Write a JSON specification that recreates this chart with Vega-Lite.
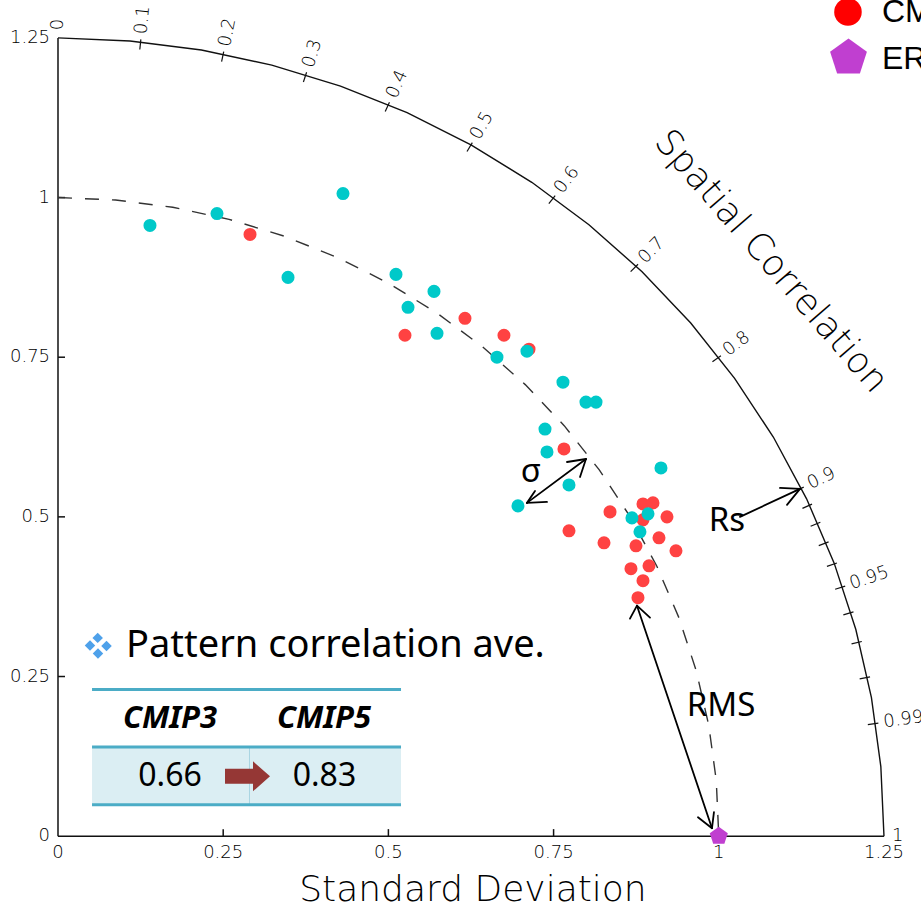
{
  "$schema": "https://vega.github.io/schema/vega-lite/v6.json",
  "width": 921,
  "height": 908,
  "autosize": {"type": "fit", "contains": "padding"},
  "padding": 0,
  "background": "white",
  "config": {"view": {"stroke": null}},
  "encoding": {
    "x": {"field": "x", "type": "quantitative", "scale": {"domain": [-0.08777, 1.30602], "nice": false, "zero": false}, "axis": null},
    "y": {"field": "y", "type": "quantitative", "scale": {"domain": [-0.10937, 1.30938], "nice": false, "zero": false}, "axis": null}
  },
  "layer": [
    {
      "data": {"values": [{"x": 0.0515, "x2": 0.5191, "y": 0.1398, "y2": 0.0492}]},
      "mark": {"type": "rect", "fill": "#dbeef3"},
      "encoding": {"x2": {"field": "x2"}, "y2": {"field": "y2"}}
    },
    {
      "data": {"values": [{"x": 0.2898, "x2": 0.2898, "y": 0.1398, "y2": 0.0492}]},
      "mark": {"type": "rule", "stroke": "#a9d5e2", "strokeWidth": 1},
      "encoding": {"x2": {"field": "x2"}, "y2": {"field": "y2"}}
    },
    {
      "data": {"values": [
        {"x": 0.0515, "x2": 0.5191, "y": 0.2297, "y2": 0.2297},
        {"x": 0.0515, "x2": 0.5191, "y": 0.1398, "y2": 0.1398},
        {"x": 0.0515, "x2": 0.5191, "y": 0.0492, "y2": 0.0492}
      ]},
      "mark": {"type": "rule", "stroke": "#4bacc6", "strokeWidth": 3},
      "encoding": {"x2": {"field": "x2"}, "y2": {"field": "y2"}}
    },
    {
      "data": {"values": [
        {"x": 0, "y": 0, "x2": 0, "y2": 1.25},
        {"x": 0, "y": 0, "x2": 1.25, "y2": 0},
        {"x": 0, "y": 0.25, "x2": 0.0106, "y2": 0.25},
        {"x": 0, "y": 0.5, "x2": 0.0106, "y2": 0.5},
        {"x": 0, "y": 0.75, "x2": 0.0106, "y2": 0.75},
        {"x": 0, "y": 1.0, "x2": 0.0106, "y2": 1.0},
        {"x": 0.25, "y": 0, "x2": 0.25, "y2": 0.011},
        {"x": 0.5, "y": 0, "x2": 0.5, "y2": 0.011},
        {"x": 0.75, "y": 0, "x2": 0.75, "y2": 0.011},
        {"x": 1.0, "y": 0, "x2": 1.0, "y2": 0.011}
      ]},
      "mark": {"type": "rule", "stroke": "#111", "strokeWidth": 1.5},
      "encoding": {"x2": {"field": "x2"}, "y2": {"field": "y2"}}
    },
    {
      "data": {"values": [
        {"o": 0, "x": 0, "y": 1.25}, {"o": 1, "x": 0.10895, "y": 1.24524}, {"o": 2, "x": 0.21706, "y": 1.23101},
        {"o": 3, "x": 0.32353, "y": 1.20741}, {"o": 4, "x": 0.42753, "y": 1.17461}, {"o": 5, "x": 0.52828, "y": 1.13289},
        {"o": 6, "x": 0.625, "y": 1.08253}, {"o": 7, "x": 0.71698, "y": 1.02394}, {"o": 8, "x": 0.80349, "y": 0.95755},
        {"o": 9, "x": 0.88388, "y": 0.88388}, {"o": 10, "x": 0.95755, "y": 0.80349}, {"o": 11, "x": 1.02394, "y": 0.71698},
        {"o": 12, "x": 1.08253, "y": 0.625}, {"o": 13, "x": 1.13289, "y": 0.52828}, {"o": 14, "x": 1.17461, "y": 0.42753},
        {"o": 15, "x": 1.20741, "y": 0.32353}, {"o": 16, "x": 1.23101, "y": 0.21706}, {"o": 17, "x": 1.24524, "y": 0.10895},
        {"o": 18, "x": 1.25, "y": 0}
      ]},
      "mark": {"type": "line", "stroke": "#111", "strokeWidth": 1.4},
      "encoding": {"order": {"field": "o", "type": "quantitative"}}
    },
    {
      "data": {"values": [
        {"o": 0, "x": 0, "y": 1}, {"o": 1, "x": 0.08716, "y": 0.99619}, {"o": 2, "x": 0.17365, "y": 0.98481},
        {"o": 3, "x": 0.25882, "y": 0.96593}, {"o": 4, "x": 0.34202, "y": 0.93969}, {"o": 5, "x": 0.42262, "y": 0.90631},
        {"o": 6, "x": 0.5, "y": 0.86603}, {"o": 7, "x": 0.57358, "y": 0.81915}, {"o": 8, "x": 0.64279, "y": 0.76604},
        {"o": 9, "x": 0.70711, "y": 0.70711}, {"o": 10, "x": 0.76604, "y": 0.64279}, {"o": 11, "x": 0.81915, "y": 0.57358},
        {"o": 12, "x": 0.86603, "y": 0.5}, {"o": 13, "x": 0.90631, "y": 0.42262}, {"o": 14, "x": 0.93969, "y": 0.34202},
        {"o": 15, "x": 0.96593, "y": 0.25882}, {"o": 16, "x": 0.98481, "y": 0.17365}, {"o": 17, "x": 0.99619, "y": 0.08716},
        {"o": 18, "x": 1, "y": 0}
      ]},
      "mark": {"type": "line", "stroke": "#333", "strokeWidth": 1.4, "strokeDash": [14, 13]},
      "encoding": {"order": {"field": "o", "type": "quantitative"}}
    },
    {
      "data": {"values": [
        {"x": 0.1238, "y": 1.2318, "x2": 0.1254, "y2": 1.2477},
        {"x": 0.2476, "y": 1.2130, "x2": 0.2508, "y2": 1.2287},
        {"x": 0.3714, "y": 1.1810, "x2": 0.3762, "y2": 1.1962},
        {"x": 0.4952, "y": 1.1346, "x2": 0.5016, "y2": 1.1493},
        {"x": 0.619, "y": 1.0721, "x2": 0.627, "y2": 1.0860},
        {"x": 0.7428, "y": 0.9904, "x2": 0.7524, "y2": 1.0032},
        {"x": 0.8666, "y": 0.8841, "x2": 0.8778, "y2": 0.8955},
        {"x": 0.9904, "y": 0.7428, "x2": 1.0032, "y2": 0.7524},
        {"x": 1.1142, "y": 0.5396, "x2": 1.1286, "y2": 0.5466},
        {"x": 1.1266, "y": 0.5133, "x2": 1.1411, "y2": 0.5199},
        {"x": 1.1390, "y": 0.4852, "x2": 1.1537, "y2": 0.4915},
        {"x": 1.1513, "y": 0.4550, "x2": 1.1662, "y2": 0.4609},
        {"x": 1.1637, "y": 0.4224, "x2": 1.1788, "y2": 0.4278},
        {"x": 1.1761, "y": 0.3866, "x2": 1.1913, "y2": 0.3916},
        {"x": 1.1885, "y": 0.3466, "x2": 1.2038, "y2": 0.3511},
        {"x": 1.2009, "y": 0.3010, "x2": 1.2164, "y2": 0.3048},
        {"x": 1.2132, "y": 0.2464, "x2": 1.2289, "y2": 0.2495},
        {"x": 1.2256, "y": 0.1746, "x2": 1.2415, "y2": 0.1769}
      ]},
      "mark": {"type": "rule", "stroke": "#111", "strokeWidth": 1.2},
      "encoding": {"x2": {"field": "x2"}, "y2": {"field": "y2"}}
    },
    {
      "data": {"values": [
        {"r": 0, "t": "0", "x": 0, "y": 1.262},
        {"r": 0.1, "t": "0.1", "x": 0.1262, "y": 1.2557},
        {"r": 0.2, "t": "0.2", "x": 0.2524, "y": 1.2365},
        {"r": 0.3, "t": "0.3", "x": 0.3786, "y": 1.2039},
        {"r": 0.4, "t": "0.4", "x": 0.5048, "y": 1.1566},
        {"r": 0.5, "t": "0.5", "x": 0.631, "y": 1.0929},
        {"r": 0.6, "t": "0.6", "x": 0.7572, "y": 1.0096},
        {"r": 0.7, "t": "0.7", "x": 0.8834, "y": 0.9012},
        {"r": 0.8, "t": "0.8", "x": 1.0096, "y": 0.7572},
        {"r": 0.9, "t": "0.9", "x": 1.1358, "y": 0.5501},
        {"r": 0.95, "t": "0.95", "x": 1.1989, "y": 0.3941},
        {"r": 0.99, "t": "0.99", "x": 1.2494, "y": 0.1780},
        {"r": 1, "t": "1", "x": 1.262, "y": 0}
      ]},
      "mark": {"type": "text", "align": "left", "baseline": "middle", "font": "DejaVu Sans", "fontWeight": 200, "fontSize": 18, "fill": "#000", "clip": true},
      "encoding": {
        "text": {"field": "t"},
        "angle": {"field": "r", "type": "quantitative", "legend": null,
          "scale": {"domain": [0, 0.1, 0.2, 0.3, 0.4, 0.5, 0.6, 0.7, 0.8, 0.9, 0.95, 0.99, 1],
                    "range": [-90, -84.26, -78.46, -72.54, -66.42, -60, -53.13, -45.57, -36.87, -25.84, -18.19, -8.11, 0],
                    "zero": false, "nice": false}}
      }
    },
    {
      "data": {"values": [
        {"t": "0", "x": -0.012, "y": 0},
        {"t": "0.25", "x": -0.012, "y": 0.25},
        {"t": "0.5", "x": -0.012, "y": 0.5},
        {"t": "0.75", "x": -0.012, "y": 0.75},
        {"t": "1", "x": -0.012, "y": 1.0},
        {"t": "1.25", "x": -0.012, "y": 1.25}
      ]},
      "mark": {"type": "text", "align": "right", "baseline": "middle", "font": "DejaVu Sans", "fontWeight": 200, "fontSize": 18, "fill": "#000"},
      "encoding": {"text": {"field": "t"}}
    },
    {
      "data": {"values": [
        {"t": "0", "x": 0, "y": -0.012},
        {"t": "0.25", "x": 0.25, "y": -0.012},
        {"t": "0.5", "x": 0.5, "y": -0.012},
        {"t": "0.75", "x": 0.75, "y": -0.012},
        {"t": "1", "x": 1.0, "y": -0.012},
        {"t": "1.25", "x": 1.25, "y": -0.012}
      ]},
      "mark": {"type": "text", "align": "center", "baseline": "top", "font": "DejaVu Sans", "fontWeight": 200, "fontSize": 18, "fill": "#000"},
      "encoding": {"text": {"field": "t"}}
    },
    {
      "data": {"values": [{"t": "Standard Deviation", "x": 0.628, "y": -0.0836}]},
      "mark": {"type": "text", "align": "center", "baseline": "middle", "font": "DejaVu Sans", "fontWeight": 200, "fontSize": 36, "fill": "#000"},
      "encoding": {"text": {"field": "t"}}
    },
    {
      "data": {"values": [{"t": "Spatial Correlation", "x": 1.079, "y": 0.9}]},
      "mark": {"type": "text", "align": "center", "baseline": "middle", "font": "DejaVu Sans", "fontWeight": 200, "fontSize": 36, "fill": "#000", "angle": 49},
      "encoding": {"text": {"field": "t"}}
    },
    {
      "data": {"values": [
        {"g": "CMIP3", "x": 0.2906, "y": 0.9422},
        {"g": "CMIP3", "x": 0.5251, "y": 0.7844},
        {"g": "CMIP3", "x": 0.6159, "y": 0.8109},
        {"g": "CMIP3", "x": 0.6749, "y": 0.7844},
        {"g": "CMIP3", "x": 0.7128, "y": 0.7625},
        {"g": "CMIP3", "x": 0.7657, "y": 0.6063},
        {"g": "CMIP3", "x": 0.7733, "y": 0.4781},
        {"g": "CMIP3", "x": 0.8263, "y": 0.4594},
        {"g": "CMIP3", "x": 0.8354, "y": 0.5078},
        {"g": "CMIP3", "x": 0.8853, "y": 0.5203},
        {"g": "CMIP3", "x": 0.9004, "y": 0.5219},
        {"g": "CMIP3", "x": 0.8853, "y": 0.4953},
        {"g": "CMIP3", "x": 0.9216, "y": 0.5},
        {"g": "CMIP3", "x": 0.9095, "y": 0.4672},
        {"g": "CMIP3", "x": 0.8747, "y": 0.4547},
        {"g": "CMIP3", "x": 0.9352, "y": 0.4469},
        {"g": "CMIP3", "x": 0.8671, "y": 0.4188},
        {"g": "CMIP3", "x": 0.8944, "y": 0.4234},
        {"g": "CMIP3", "x": 0.8853, "y": 0.4},
        {"g": "CMIP3", "x": 0.8777, "y": 0.3734},
        {"g": "CMIP5", "x": 0.1392, "y": 0.9563},
        {"g": "CMIP5", "x": 0.2406, "y": 0.975},
        {"g": "CMIP5", "x": 0.4313, "y": 1.0063},
        {"g": "CMIP5", "x": 0.3481, "y": 0.875},
        {"g": "CMIP5", "x": 0.5115, "y": 0.8797},
        {"g": "CMIP5", "x": 0.569, "y": 0.8531},
        {"g": "CMIP5", "x": 0.5297, "y": 0.8281},
        {"g": "CMIP5", "x": 0.5736, "y": 0.7875},
        {"g": "CMIP5", "x": 0.7097, "y": 0.7594},
        {"g": "CMIP5", "x": 0.6643, "y": 0.75},
        {"g": "CMIP5", "x": 0.7642, "y": 0.7109},
        {"g": "CMIP5", "x": 0.799, "y": 0.6797},
        {"g": "CMIP5", "x": 0.8142, "y": 0.6797},
        {"g": "CMIP5", "x": 0.737, "y": 0.6375},
        {"g": "CMIP5", "x": 0.74, "y": 0.6016},
        {"g": "CMIP5", "x": 0.7733, "y": 0.55},
        {"g": "CMIP5", "x": 0.6961, "y": 0.5172},
        {"g": "CMIP5", "x": 0.9125, "y": 0.5766},
        {"g": "CMIP5", "x": 0.8686, "y": 0.4984},
        {"g": "CMIP5", "x": 0.8929, "y": 0.5047},
        {"g": "CMIP5", "x": 0.8807, "y": 0.4766}
      ]},
      "mark": {"type": "point", "shape": "circle", "filled": true, "opacity": 1, "size": 170, "strokeWidth": 0},
      "encoding": {
        "color": {"field": "g", "type": "nominal", "legend": null, "scale": {"domain": ["CMIP3", "CMIP5"], "range": ["#ff4242", "#00c9c9"]}}
      }
    },
    {
      "data": {"values": [{"x": 1.0, "y": 0}]},
      "mark": {"type": "point", "shape": "M0,-1L0.951,-0.309L0.588,0.809L-0.588,0.809L-0.951,-0.309Z", "filled": true, "opacity": 1, "size": 360, "color": "#c03fd0", "strokeWidth": 0}
    },
    {
      "data": {"values": [{"x": 1.1955, "y": 1.2906}]},
      "mark": {"type": "point", "shape": "circle", "filled": true, "opacity": 1, "size": 760, "color": "#ff0000", "strokeWidth": 0, "clip": true}
    },
    {
      "data": {"values": [{"x": 1.1963, "y": 1.2188}]},
      "mark": {"type": "point", "shape": "M0,-1L0.951,-0.309L0.588,0.809L-0.588,0.809L-0.951,-0.309Z", "filled": true, "opacity": 1, "size": 1500, "color": "#c03fd0", "strokeWidth": 0, "clip": true}
    },
    {
      "data": {"values": [
        {"t": "CMIP3", "x": 1.247, "y": 1.2906},
        {"t": "ERA40", "x": 1.247, "y": 1.2172}
      ]},
      "mark": {"type": "text", "align": "left", "baseline": "middle", "font": "Liberation Sans", "fontSize": 32, "fill": "#000", "clip": true},
      "encoding": {"text": {"field": "t"}}
    },
    {
      "data": {"values": [
        {"x": 0.7097, "y": 0.5219, "x2": 0.799, "y2": 0.5906},
        {"x": 0.7097, "y": 0.5219, "x2": 0.7219, "y2": 0.5406},
        {"x": 0.7097, "y": 0.5219, "x2": 0.74, "y2": 0.5234},
        {"x": 0.799, "y": 0.5906, "x2": 0.7703, "y2": 0.5859},
        {"x": 0.799, "y": 0.5906, "x2": 0.79, "y2": 0.5625},
        {"x": 1.0321, "y": 0.5, "x2": 1.1229, "y2": 0.5438},
        {"x": 1.1229, "y": 0.5438, "x2": 1.0926, "y2": 0.5453},
        {"x": 1.1229, "y": 0.5438, "x2": 1.1032, "y2": 0.5188},
        {"x": 0.8762, "y": 0.3609, "x2": 0.9897, "y2": 0.0125},
        {"x": 0.8762, "y": 0.3609, "x2": 0.8656, "y2": 0.3406},
        {"x": 0.8762, "y": 0.3609, "x2": 0.8959, "y2": 0.3422},
        {"x": 0.9897, "y": 0.0125, "x2": 0.9685, "y2": 0.0297},
        {"x": 0.9897, "y": 0.0125, "x2": 0.9927, "y2": 0.0375}
      ]},
      "mark": {"type": "rule", "stroke": "#000", "strokeWidth": 1.8, "strokeCap": "round"},
      "encoding": {"x2": {"field": "x2"}, "y2": {"field": "y2"}}
    },
    {
      "data": {"values": [
        {"t": "σ", "x": 0.7158, "y": 0.5547},
        {"t": "Rs", "x": 1.0124, "y": 0.4781},
        {"t": "RMS", "x": 1.0033, "y": 0.1875}
      ]},
      "mark": {"type": "text", "align": "center", "baseline": "alphabetic", "font": "Noto Sans", "fontSize": 33, "fill": "#000"},
      "encoding": {"text": {"field": "t"}}
    },
    {
      "data": {"values": [
        {"x": 0.0601, "y": 0.3105},
        {"x": 0.0484, "y": 0.2984},
        {"x": 0.0734, "y": 0.2977},
        {"x": 0.0605, "y": 0.2859}
      ]},
      "mark": {"type": "point", "shape": "diamond", "filled": true, "opacity": 1, "size": 110, "color": "#4ea1ea", "strokeWidth": 0}
    },
    {
      "data": {"values": [{"t": "Pattern correlation ave.", "x": 0.1029, "y": 0.2984}]},
      "mark": {"type": "text", "align": "left", "baseline": "middle", "font": "Noto Sans", "fontSize": 38, "fill": "#000"},
      "encoding": {"text": {"field": "t"}}
    },
    {
      "data": {"values": [
        {"t": "CMIP3", "x": 0.1695, "y": 0.1828},
        {"t": "CMIP5", "x": 0.4025, "y": 0.1828}
      ]},
      "mark": {"type": "text", "align": "center", "baseline": "middle", "font": "Noto Sans", "fontWeight": "bold", "fontStyle": "italic", "fontSize": 31, "fill": "#000"},
      "encoding": {"text": {"field": "t"}}
    },
    {
      "data": {"values": [
        {"t": "0.66", "x": 0.1695, "y": 0.0945},
        {"t": "0.83", "x": 0.4033, "y": 0.0945}
      ]},
      "mark": {"type": "text", "align": "center", "baseline": "middle", "font": "Noto Sans", "fontSize": 32, "fill": "#000"},
      "encoding": {"text": {"field": "t"}}
    },
    {
      "data": {"values": [{"x": 0.2868, "y": 0.0938}]},
      "mark": {"type": "point", "shape": "M-1,-0.333L0.244,-0.333L0.244,-0.667L1,0L0.244,0.667L0.244,0.333L-1,0.333Z", "filled": true, "opacity": 1, "size": 2025, "color": "#953735", "strokeWidth": 0}
    }
  ]
}
